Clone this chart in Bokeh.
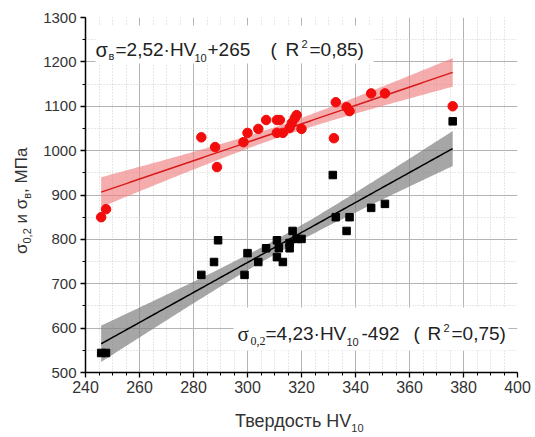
import numpy as np
from bokeh.plotting import figure
from bokeh.models import Range1d, SingleIntervalTicker, Label, BoxAnnotation, Div
from bokeh.layouts import row, column
from bokeh.embed import file_html
from bokeh.resources import INLINE

# ---- data ----
hv_uts = [245.8, 247.6, 282.9, 288.0, 288.7, 298.5, 300.0, 304.0, 306.9, 310.9, 312.0, 310.9, 313.1,
          315.6, 316.4, 317.5, 318.2, 320.0, 332.0, 332.7, 336.7, 337.8, 345.8, 350.9, 376.0]
uts = [850, 868, 1030, 1008, 963, 1019, 1040, 1049, 1069, 1069, 1069, 1040, 1040,
       1051, 1062, 1073, 1080, 1049, 1028, 1109, 1098, 1089, 1129, 1129, 1100]

hv_ys = [245.8, 247.6, 282.9, 287.6, 289.1, 298.9, 300.0, 304.0, 306.9, 310.9, 310.9, 311.6, 313.1,
         315.6, 315.6, 316.7, 318.2, 320.0, 331.6, 332.7, 336.7, 337.8, 345.8, 350.9, 376.0]
ys = [544, 544, 720, 749, 798, 720, 769, 749, 780, 798, 760, 780, 749,
      780, 792, 819, 801, 801, 945, 850, 819, 850, 871, 880, 1066]

x_start, x_end, x_step = 240, 400, 20
y_start, y_end, y_step = 500, 1300, 100
T95 = 2.069  # Student t, 23 d.o.f.


def fit(x, y):
    x = np.asarray(x, float)
    y = np.asarray(y, float)
    n = len(x)
    b, a = np.polyfit(x, y, 1)
    res = y - (a + b * x)
    s = np.sqrt((res ** 2).sum() / (n - 2))
    xm = x.mean()
    sxx = ((x - xm) ** 2).sum()
    xs = np.linspace(x.min(), x.max(), 120)
    yh = a + b * xs
    hw = T95 * s * np.sqrt(1.0 / n + (xs - xm) ** 2 / sxx)
    return xs, yh, yh - hw, yh + hw


# ---- layout geometry (canvas pixels) ----
W, H = 535, 437
LW = 40          # left title strip
BH = 35          # bottom title strip
FL, FT, FW, FH = 82, 17, 432, 355
FB = FT + FH
PW, PH = W - LW, H - BH

p = figure(frame_width=FW, frame_height=FH,
           x_range=Range1d(x_start, x_end), y_range=Range1d(y_start, y_end),
           min_border_left=FL - LW, min_border_top=FT, min_border_right=W - FL - FW,
           min_border_bottom=PH - FB,
           output_backend="svg", toolbar_location=None)
p.outline_line_color = None
p.background_fill_color = "white"
p.border_fill_color = "white"


def dx(px):
    return x_start + (px - FL) / FW * (x_end - x_start)


def dy(py):
    return y_start + (FB - py) / FH * (y_end - y_start)


# axes
p.xaxis.ticker = SingleIntervalTicker(interval=x_step, num_minor_ticks=4)
p.yaxis.ticker = SingleIntervalTicker(interval=y_step, num_minor_ticks=2)
for ax in (p.xaxis[0], p.yaxis[0]):
    ax.axis_line_color = "black"
    ax.axis_line_width = 1.5
    ax.major_tick_line_color = "black"
    ax.minor_tick_line_color = "black"
    ax.major_tick_line_width = 1.3
    ax.major_tick_out = 5
    ax.major_tick_in = 0
    ax.minor_tick_out = 3
    ax.minor_tick_in = 0
    ax.major_label_text_font = "Liberation Sans"
    ax.major_label_text_color = "#333333"
p.xaxis.major_label_text_font_size = "16px"
p.yaxis.major_label_text_font_size = "15px"
p.xaxis.major_label_standoff = 3
p.yaxis.major_label_standoff = 4

# grids
for g in (p.xgrid[0], p.ygrid[0]):
    g.grid_line_color = "#b4b4b4"
    g.grid_line_width = 1
    g.minor_grid_line_color = "#cfcfcf"
    g.minor_grid_line_dash = "1 2"
    g.minor_grid_line_width = 1

# fits and bands
xs, yh, lo, hi = fit(hv_uts, uts)
p.varea(x=xs, y1=lo, y2=hi, fill_color="#f08080", fill_alpha=0.65)
p.line(xs, yh, line_color="#d91a1a", line_width=1.5)

xs2, yh2, lo2, hi2 = fit(hv_ys, ys)
p.varea(x=xs2, y1=lo2, y2=hi2, fill_color="#808080", fill_alpha=0.7)
p.line(xs2, yh2, line_color="black", line_width=1.5)

# points
p.scatter(hv_uts, uts, marker="circle", size=9.5, fill_color="#f20c0c", line_color="#f20c0c")
p.scatter(hv_ys, ys, marker="square", size=7.5, fill_color="black", line_color="black")

# white boxes behind equations
p.add_layout(BoxAnnotation(left=dx(92), right=dx(370), top=dy(25), bottom=dy(63),
                           fill_color="white", fill_alpha=1, line_color=None))
p.add_layout(BoxAnnotation(left=dx(230), right=dx(505), top=dy(307), bottom=dy(350),
                           fill_color="white", fill_alpha=1, line_color=None))

SANS = "Liberation Sans"
SERIF = "Liberation Serif"


def put(text, px, py, size, font=SANS, align="left", color="#222222"):
    p.add_layout(Label(x=dx(px), y=dy(py), text=text, text_font=font,
                       text_font_size=f"{size}px", text_align=align,
                       text_baseline="alphabetic", text_color=color))


# equation 1
put("σ", 92, 49, 20)
put("в", 105, 55, 11)
put("=2,52·HV", 112, 49, 19)
put("10", 191, 57, 11)
put("+265", 204, 49, 19)
put("(", 267, 49, 19)
put("R", 282, 49, 19)
put("2", 298, 43, 11)
put("=0,85)", 306, 49, 19)

# equation 2
put("σ", 234, 333, 21, font=SERIF)
put("0,2", 247, 340, 12, font=SERIF)
put("=4,23·HV", 262, 333, 19)
put("10", 343, 341, 11)
put("-492", 358, 333, 19)
put("(", 410, 333, 19)
put("R", 424, 333, 19)
put("2", 440, 327, 11)
put("=0,75)", 448, 333, 19)

# ---- axis titles as HTML (subscripts) ----
sub = "font-size:11px; vertical-align:-5px"
xdiv = Div(
    text=('<div style="padding-left:195px; padding-top:9px; font-family:\'Liberation Sans\'; '
          'font-size:18px; line-height:20px; color:#333333; white-space:nowrap">'
          f'Твердость HV<sub style="{sub}">10</sub></div>'),
    width=PW, height=BH, margin=(0, 0, 0, 0))

ysub = "font-size:11px; vertical-align:-4px"
ydiv = Div(
    text=(f'<div style="position:relative; width:{LW}px; height:{H}px;">'
          '<div style="position:absolute; left:12px; top:254px; transform:rotate(-90deg); '
          'transform-origin:0 0; white-space:nowrap; font-family:\'Liberation Sans\'; '
          'font-size:17px; line-height:19px; color:#333333">'
          f'σ<sub style="{ysub}">0,2</sub> и σ<sub style="{ysub}">в</sub>, МПа</div></div>'),
    width=LW, height=H, margin=(0, 0, 0, 0))

layout = row(ydiv, column(p, xdiv, spacing=0), spacing=0)

open("out.html", "w").write(file_html(layout, INLINE))
